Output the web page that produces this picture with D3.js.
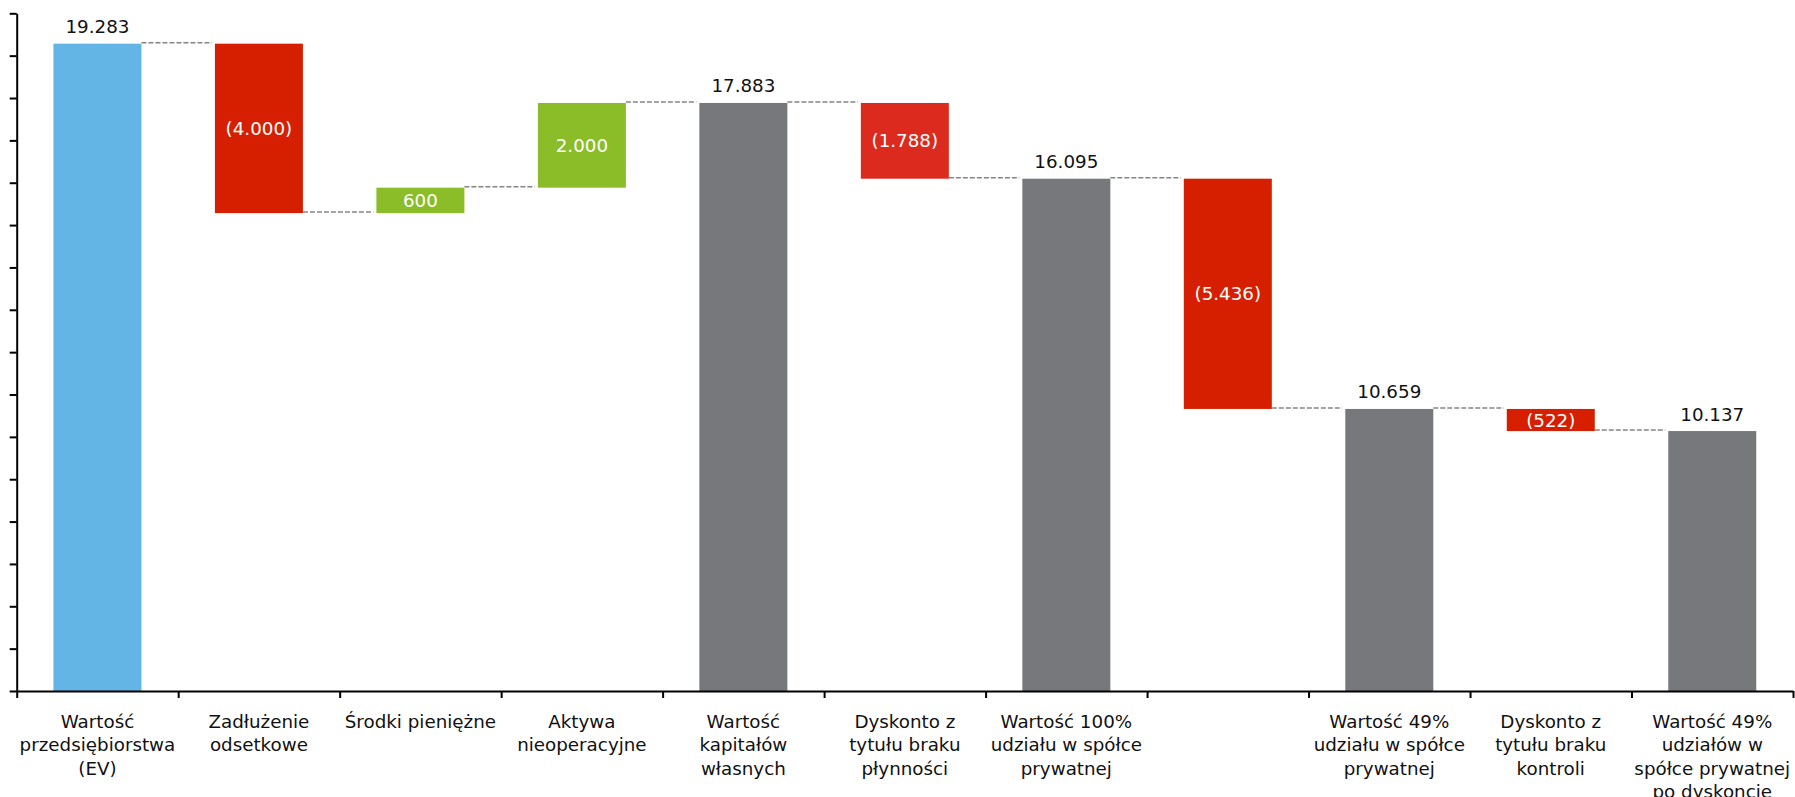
<!DOCTYPE html>
<html>
<head>
<meta charset="utf-8">
<script src="https://cdn.jsdelivr.net/npm/d3@7"></script>
<style>
  html, body { margin: 0; padding: 0; background: #fff; }
  svg { display: block; font-family: "DejaVu Sans", Verdana, sans-serif; }
</style>
</head>
<body>
<svg id="chart" width="1795" height="797"></svg>
<script>
// Bridge from enterprise value to the value of a 49% stake after discounts
const categories = [
  "Wartość\nprzedsiębiorstwa\n(EV)",
  "Zadłużenie\nodsetkowe",
  "Środki pieniężne",
  "Aktywa\nnieoperacyjne",
  "Wartość\nkapitałów\nwłasnych",
  "Dyskonto z\ntytułu braku\npłynności",
  "Wartość 100%\nudziału w spółce\nprywatnej",
  "",
  "Wartość 49%\nudziału w spółce\nprywatnej",
  "Dyskonto z\ntytułu braku\nkontroli",
  "Wartość 49%\nudziałów w\nspółce prywatnej\npo dyskoncie"
];
// "start" and "total" bars stand on the axis, "delta" bars float
const kinds  = ["start", "delta", "delta", "delta", "total", "delta", "total", "delta", "total", "delta", "total"];
const values = [19283, -4000, 600, 2000, 17883, -1788, 16095, -5436, 10659, -522, 10137];
const yTicks = d3.range(4000, 20001, 1000);

const barColors = ["#63b5e5", "#d51f00", "#8abd27", "#8abd27", "#76787b", "#dc2a1e",
                   "#76787b", "#d51f00", "#76787b", "#d51f00", "#76787b"];

const W = 1795, H = 797;
const x0 = 16.7, x1 = 1793, yBase = 691, yTop = 13.3;

const svg = d3.select("#chart");

const x = d3.scaleBand().domain(d3.range(categories.length)).range([x0, x1]).padding(0);
const edges = d3.scaleLinear().domain([0, categories.length]).range([x0, x1]);
const y = d3.scaleLinear().domain([4000, 20000]).range([yBase, yTop]);

const barW = x.bandwidth() * 0.545;

// running levels of the bridge
let level = 0;
const bars = values.map((v, i) => {
  let lo, hi, end;
  if (kinds[i] === "delta") {
    const start = level;
    end = level + v;
    lo = Math.min(start, end); hi = Math.max(start, end);
  } else {
    end = v; lo = y.domain()[0]; hi = v;
  }
  level = end;
  return { i, v, kind: kinds[i], lo, hi, end };
});

const fmt = n => d3.format(",")(Math.abs(n)).replace(/,/g, ".");
const labelText = b => b.kind === "delta" && b.v < 0 ? "(" + fmt(b.v) + ")" : fmt(b.v);

// dashed connectors between consecutive bars
svg.append("g").selectAll("line")
  .data(bars.slice(0, -1))
  .join("line")
  .attr("x1", b => x(b.i) + (x.bandwidth() + barW) / 2)
  .attr("x2", b => x(b.i + 1) + (x.bandwidth() - barW) / 2 - 3)
  .attr("y1", b => y(b.end) - 1)
  .attr("y2", b => y(b.end) - 1)
  .attr("stroke", "#858585")
  .attr("stroke-width", 1.5)
  .attr("stroke-dasharray", "5,2");

// bars
svg.append("g").selectAll("rect")
  .data(bars)
  .join("rect")
  .attr("x", b => x(b.i) + (x.bandwidth() - barW) / 2)
  .attr("width", barW)
  .attr("y", b => y(b.hi))
  .attr("height", b => y(b.lo) - y(b.hi))
  .attr("fill", b => barColors[b.i]);

// value labels: above for totals, inside for changes
svg.append("g").selectAll("text")
  .data(bars)
  .join("text")
  .attr("x", b => x(b.i) + x.bandwidth() / 2)
  .attr("y", b => b.kind === "delta" ? (y(b.hi) + y(b.lo)) / 2 : y(b.hi) - 10.5)
  .attr("dy", b => b.kind === "delta" ? "0.36em" : 0)
  .attr("text-anchor", "middle")
  .attr("font-size", "18.3px")
  .attr("fill", b => b.kind === "delta" ? "#ffffff" : "#111111")
  .text(labelText);

// y axis: tick marks only
const yAxis = svg.append("g")
  .attr("transform", `translate(${x0},0)`)
  .call(d3.axisLeft(y).tickValues(yTicks).tickFormat("").tickSize(7).tickSizeOuter(0));

// x axis: tick marks at the category boundaries
const xAxis = svg.append("g")
  .attr("transform", `translate(0,${yBase})`)
  .call(d3.axisBottom(edges).tickValues(d3.range(categories.length + 1)).tickFormat("").tickSize(7).tickSizeOuter(0));

[yAxis, xAxis].forEach(g => {
  g.select(".domain").attr("stroke", "#000").attr("stroke-width", 2);
  g.selectAll(".tick line").attr("stroke", "#000").attr("stroke-width", 2);
});

// category labels
const lab = svg.append("g").selectAll("text")
  .data(categories)
  .join("text")
  .attr("x", (d, i) => x(i) + x.bandwidth() / 2)
  .attr("y", 728)
  .attr("text-anchor", "middle")
  .attr("font-size", "18.3px")
  .attr("fill", "#111111");
lab.each(function(d, i) {
  const t = d3.select(this);
  d.split("\n").forEach((line, k) => {
    t.append("tspan")
      .attr("x", x(i) + x.bandwidth() / 2)
      .attr("y", 728 + k * 23.3)
      .text(line);
  });
});
</script>
</body>
</html>
